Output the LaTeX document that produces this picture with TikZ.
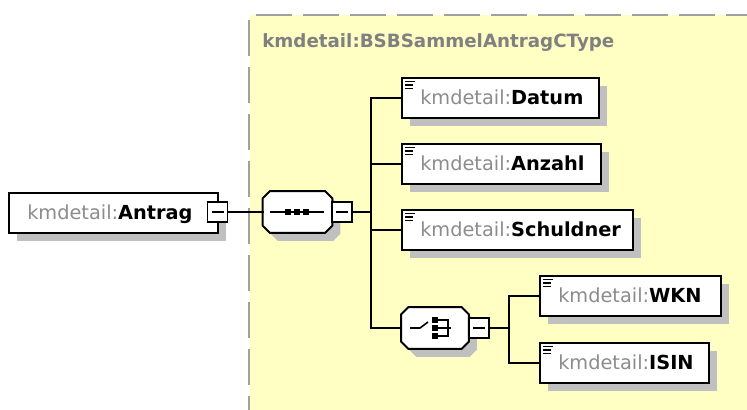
\documentclass[tikz,border=0pt]{standalone}
\usepackage{fontspec}
\setmainfont{DejaVu Sans}
\usetikzlibrary{calc,shadows}
\definecolor{bgyellow}{RGB}{255,255,196}
\definecolor{dashgray}{RGB}{160,160,160}
\definecolor{shadowgray}{RGB}{192,192,192}
\definecolor{titlegray}{RGB}{128,128,128}
\definecolor{pregray}{RGB}{140,140,140}
\tikzset{
  shad/.style={general shadow={fill=shadowgray, shadow xshift=6pt, shadow yshift=-6pt}},
  box/.style={shad, draw=black, line width=1.5pt, fill=white, rectangle, inner sep=0pt,
    anchor=north west, minimum height=30pt},
  octobase/.style={rectangle, inner sep=0pt, minimum width=51.75pt, minimum height=30.75pt},
  octoline/.style={draw=black, line width=1.5pt, fill=white, line join=miter},
  octoshadow/.style={fill=shadowgray},
  minusbox/.style={draw=black, line width=1.2pt, fill=white, rectangle, inner sep=0pt,
    minimum width=15pt, minimum height=15pt,
    path picture={\draw[line width=1pt] ([xshift=3pt]path picture bounding box.west) -- ([xshift=-3pt]path picture bounding box.east);}},
  lbl/.style={anchor=base west, inner sep=0pt, font=\fontsize{14.5}{17}\selectfont},
  icon/.style={line width=1.4pt},
  conn/.style={line width=1.5pt, line cap=rect},
  sq/.style={fill=black},
}
\newcommand\xsel[5]{%
  \node[box, minimum width=#4*0.75pt] (#1) at (#2,#3) {};
  \node[lbl] (#1-l) at ($(#1.west)+(19,6.5)$) {{\color{pregray}kmdetail:}\textbf{#5}};
  \draw[icon] ($(#1.north west)+(4,4.5)$) -- ++(10,0)
              ($(#1.north west)+(4,8)$) -- ++(8,0)
              ($(#1.north west)+(4,11.5)$) -- ++(8,0);
}
\newcommand\octpath[3]{%
  ($(#1.north west)+(7+#2,#3)$) -- ($(#1.north east)+(-7+#2,#3)$) --
  ($(#1.north east)+(#2,7+#3)$) -- ($(#1.south east)+(#2,-7+#3)$) --
  ($(#1.south east)+(-7+#2,#3)$) -- ($(#1.south west)+(7+#2,#3)$) --
  ($(#1.south west)+(#2,-7+#3)$) -- ($(#1.north west)+(#2,7+#3)$) -- cycle}
\begin{document}
\begin{tikzpicture}[x=0.75pt,y=-0.75pt]
\useasboundingbox (0,0) rectangle (747,410);
% background of complex type
\fill[bgyellow] (250,15) rectangle (747,410);
\draw[dashgray, line width=1.5pt, dash pattern=on 27pt off 8.25pt] (256,15) -- (747,15);
\draw[dashgray, line width=1.5pt, dash pattern=on 27pt off 8.25pt] (249,20) -- (249,410);
\node[anchor=base west, text=titlegray, font=\bfseries\fontsize{13.7}{16}\selectfont, inner sep=0pt]
  (title) at (262,47.5) {kmdetail:BSBSammelAntragCType};

% root element
\node[box, minimum width=156.75pt] (antrag) at (8,192) {};
\node[lbl] (antrag-l) at ($(antrag.west)+(19,6.5)$) {{\color{pregray}kmdetail:}\textbf{Antrag}};
\node[minusbox] (am) at (217.5,212) {};

% sequence
\node[octobase] (seq) at (297.5,212) {};
\fill[octoshadow] \octpath{seq}{8}{8};
\filldraw[octoline] \octpath{seq}{0}{0};
\node[minusbox] (sm) at (342,212) {};
\draw[line width=1.2pt] ($(seq.center)+(-27.5,0)$) -- ($(seq.center)+(26,0)$);
\fill[sq] ($(seq.center)+(-12.5,-3)$) rectangle ++(6,6);
\fill[sq] ($(seq.center)+(-3.5,-3)$) rectangle ++(6,6);
\fill[sq] ($(seq.center)+(5.5,-3)$) rectangle ++(6,6);

% elements
\xsel{datum}{401}{77}{197}{Datum}
\xsel{anzahl}{401}{143}{199}{Anzahl}
\xsel{schuld}{401}{209}{231}{Schuldner}

% choice
\node[octobase, minimum width=50.25pt] (cho) at (435,328) {};
\fill[octoshadow] \octpath{cho}{8}{8};
\filldraw[octoline] \octpath{cho}{0}{0};
\node[minusbox] (cm) at (479,328) {};
\draw[line width=1.2pt] ($(cho.center)+(-25,0)$) -- ($(cho.center)+(-15,0)$) -- ($(cho.center)+(-7,-6)$);
\fill[sq] ($(cho.center)+(-3,-11)$) rectangle ++(6,6);
\fill[sq] ($(cho.center)+(-3,-3)$) rectangle ++(6,6);
\fill[sq] ($(cho.center)+(-3,5)$) rectangle ++(6,6);
\draw[line width=1.2pt] ($(cho.center)+(3,-8)$) -- ($(cho.center)+(13,-8)$) -- ($(cho.center)+(13,8)$) -- ($(cho.center)+(3,8)$);
\draw[line width=1.2pt] ($(cho.center)+(3,0)$) -- ($(cho.center)+(16,0)$);

\xsel{wkn}{539}{275}{181}{WKN}
\xsel{isin}{539}{342}{169}{ISIN}

% connectors
\coordinate (j1) at (371,212);
\coordinate (j2) at (509,328);
\draw[conn] (am.east) -- (seq.west);
\draw[conn] (sm.east) -- (j1);
\draw[conn] (j1 |- datum.west) -- (j1 |- cho.west);
\draw[conn] (j1 |- datum.west) -- (datum.west);
\draw[conn] (j1 |- anzahl.west) -- (anzahl.west);
\draw[conn] (j1 |- schuld.west) -- (schuld.west);
\draw[conn] (j1 |- cho.west) -- (cho.west);
\draw[conn] (cm.east) -- (j2);
\draw[conn] (j2 |- wkn.west) -- (j2 |- isin.west);
\draw[conn] (j2 |- wkn.west) -- (wkn.west);
\draw[conn] (j2 |- isin.west) -- (isin.west);
\end{tikzpicture}
\end{document}
